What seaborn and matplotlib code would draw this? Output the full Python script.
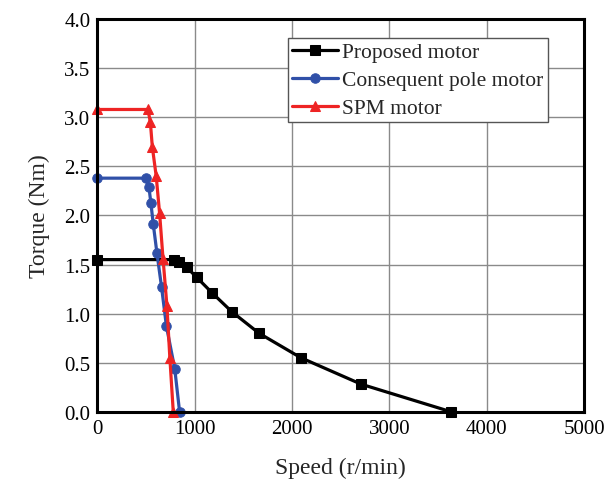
import matplotlib
matplotlib.use("Agg")
import matplotlib.pyplot as plt
import seaborn as sns
import pandas as pd

proposed_speed = [0, 790, 840, 920, 1020, 1180, 1380, 1660, 2090, 2710, 3630]
proposed_torque = [1.55, 1.55, 1.53, 1.47, 1.37, 1.21, 1.02, 0.80, 0.55, 0.28, 0.0]

cp_speed = [0, 500, 530, 550, 575, 612, 660, 710, 795, 845]
cp_torque = [2.38, 2.38, 2.29, 2.13, 1.91, 1.62, 1.27, 0.87, 0.44, 0.0]

spm_speed = [0, 520, 545, 565, 605, 640, 675, 715, 745, 780]
spm_torque = [3.08, 3.08, 2.95, 2.70, 2.40, 2.02, 1.56, 1.08, 0.55, 0.0]

series_names = ["Proposed motor", "Consequent pole motor", "SPM motor"]
colors = ["#000000", "#3050A8", "#EE2424"]
markers = ["s", "o", "^"]

sns.set_theme(style="white")
plt.rcParams["font.family"] = ["Liberation Serif", "DejaVu Serif"]

frames = []
for name, sp, tq in zip(series_names,
                        [proposed_speed, cp_speed, spm_speed],
                        [proposed_torque, cp_torque, spm_torque]):
    frames.append(pd.DataFrame({"Speed": sp, "Torque": tq, "Motor": name}))
df = pd.concat(frames, ignore_index=True)

fig = plt.figure(figsize=(6.08, 4.81), dpi=100)
ax = fig.add_axes([0.160, 0.142, 0.801, 0.816])

for name, c, m in zip(series_names, colors, markers):
    sub = df[df["Motor"] == name]
    sns.lineplot(data=sub, x="Speed", y="Torque", ax=ax, sort=False,
                 estimator=None, color=c, marker=m, markersize=6.8,
                 markeredgecolor=c, linewidth=2.3, label=name, clip_on=False)

ax.set_xlim(0, 5000)
ax.set_ylim(0, 4.0)
ax.set_xticks([0, 1000, 2000, 3000, 4000, 5000])
ax.set_yticks([0, 0.5, 1.0, 1.5, 2.0, 2.5, 3.0, 3.5, 4.0])
ax.set_yticklabels([f"{v:.1f}" for v in [0, 0.5, 1.0, 1.5, 2.0, 2.5, 3.0, 3.5, 4.0]])
ax.grid(True, color="#8a8a8a", linewidth=1.0)
ax.set_axisbelow(True)
for s in ax.spines.values():
    s.set_color("black")
    s.set_linewidth(2.2)
ax.tick_params(axis="both", length=0, labelsize=15, colors="black", pad=5)
ax.set_xlabel("Speed (r/min)", fontsize=17, labelpad=14)
ax.set_ylabel("Torque (Nm)", fontsize=17, labelpad=10)

leg = ax.legend(loc="upper left", bbox_to_anchor=(0.392, 0.952), fontsize=15.5,
                frameon=True, fancybox=False, framealpha=1, edgecolor="#555555",
                handlelength=2.1, borderpad=0.2, labelspacing=0.36,
                handletextpad=0.2, borderaxespad=0)
leg.get_frame().set_linewidth(1.0)

fig.savefig("out.png", dpi=100)
